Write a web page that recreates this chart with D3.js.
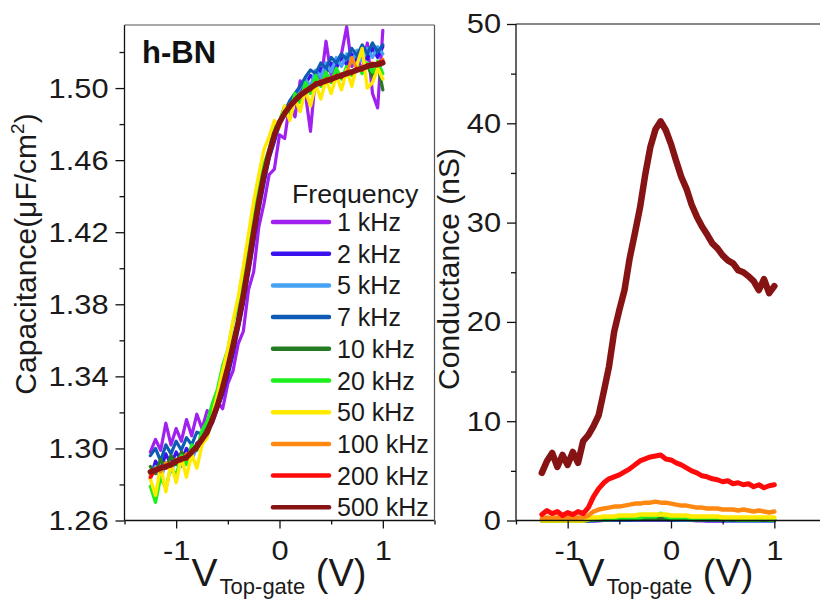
<!DOCTYPE html>
<html><head><meta charset="utf-8">
<script src="https://cdn.jsdelivr.net/npm/d3@7"></script>
<style>
html,body{margin:0;padding:0;background:#fff;}
svg{display:block;font-family:"Liberation Sans",Arial,sans-serif;}
</style>
</head><body>
<svg id="chart" width="820" height="607"></svg>
<script>
// ---------------- data ----------------
const voltage = [-1.25,-1.2,-1.15,-1.1,-1.05,-1,-0.95,-0.9,-0.85,-0.8,
  -0.75,-0.7,-0.65,-0.6,-0.55,-0.5,-0.45,-0.4,-0.35,-0.3,
  -0.25,-0.2,-0.15,-0.1,-0.05,0,0.05,0.1,0.15,0.2,
  0.25,0.3,0.35,0.4,0.45,0.5,0.55,0.6,0.65,0.7,
  0.75,0.8,0.85,0.9,0.95,1];

const frequencies = ["1 kHz","2 kHz","5 kHz","7 kHz","10 kHz","20 kHz","50 kHz","100 kHz","200 kHz","500 kHz"];
const seriesColors = ["#A020F0","#3A10EE","#45A2F5","#0D5BB5","#237B23","#1CF01C","#FFEA00","#FF8811","#FF0A0A","#871414"];

// Capacitance (µF/cm²)
const cap1k = [1.298,1.305,1.299,1.314,1.302,1.311,1.304,1.316,1.307,1.319,
  1.311,1.321,1.317,1.326,1.322,1.336,1.343,1.358,1.365,1.388,
  1.398,1.423,1.436,1.452,1.455,1.474,1.472,1.492,1.484,1.504,
  1.497,1.476,1.508,1.503,1.526,1.507,1.514,1.519,1.534,1.512,
  1.518,1.509,1.525,1.497,1.489,1.532];
const cap2k = [1.283,1.293,1.288,1.297,1.291,1.298,1.293,1.300,1.296,1.303,
  1.305,1.311,1.314,1.322,1.330,1.340,1.352,1.366,1.380,1.397,
  1.414,1.432,1.447,1.461,1.470,1.480,1.485,1.491,1.495,1.499,
  1.502,1.507,1.504,1.511,1.508,1.514,1.511,1.517,1.513,1.519,
  1.515,1.521,1.516,1.522,1.517,1.523];
const cap5k = [1.284,1.290,1.283,1.292,1.287,1.294,1.290,1.297,1.294,1.300,
  1.303,1.309,1.315,1.323,1.333,1.344,1.356,1.370,1.384,1.401,
  1.419,1.436,1.451,1.463,1.472,1.479,1.486,1.491,1.496,1.500,
  1.505,1.501,1.510,1.506,1.514,1.509,1.517,1.512,1.519,1.514,
  1.521,1.515,1.522,1.517,1.523,1.519];
const cap7k = [1.296,1.300,1.293,1.302,1.297,1.304,1.299,1.306,1.302,1.309,
  1.308,1.315,1.318,1.327,1.334,1.345,1.356,1.369,1.383,1.400,
  1.418,1.435,1.450,1.462,1.472,1.480,1.487,1.493,1.497,1.501,
  1.506,1.510,1.508,1.514,1.511,1.517,1.514,1.519,1.516,1.522,
  1.518,1.524,1.519,1.525,1.520,1.524];
const cap10k = [1.290,1.286,1.294,1.289,1.296,1.291,1.298,1.294,1.301,1.299,
  1.307,1.311,1.320,1.326,1.338,1.346,1.360,1.371,1.388,1.403,
  1.423,1.437,1.455,1.464,1.476,1.481,1.488,1.490,1.495,1.496,
  1.500,1.500,1.504,1.503,1.506,1.505,1.508,1.506,1.510,1.508,
  1.512,1.509,1.513,1.506,1.514,1.499];
const cap20k = [1.279,1.270,1.284,1.278,1.290,1.285,1.296,1.291,1.302,1.300,
  1.310,1.315,1.325,1.333,1.346,1.355,1.370,1.381,1.397,1.412,
  1.430,1.444,1.458,1.466,1.478,1.482,1.490,1.487,1.497,1.492,
  1.503,1.497,1.507,1.501,1.509,1.503,1.511,1.505,1.512,1.507,
  1.513,1.508,1.514,1.509,1.515,1.508];
const cap50k = [1.283,1.274,1.290,1.276,1.292,1.281,1.295,1.284,1.297,1.289,
  1.302,1.306,1.318,1.330,1.343,1.355,1.371,1.384,1.401,1.419,
  1.437,1.452,1.466,1.473,1.482,1.478,1.490,1.482,1.494,1.487,
  1.499,1.490,1.502,1.494,1.505,1.497,1.507,1.499,1.510,1.501,
  1.513,1.522,1.500,1.503,1.511,1.505];
const cap100k = [1.285,1.289,1.287,1.292,1.290,1.294,1.293,1.297,1.297,1.302,
  1.305,1.310,1.316,1.325,1.334,1.346,1.357,1.371,1.385,1.403,
  1.420,1.438,1.452,1.465,1.474,1.482,1.486,1.491,1.493,1.497,
  1.498,1.501,1.502,1.504,1.504,1.506,1.506,1.508,1.508,1.517,
  1.510,1.512,1.512,1.514,1.513,1.516];
const cap200k = [1.284,1.288,1.290,1.289,1.292,1.292,1.295,1.294,1.299,1.300,
  1.306,1.308,1.317,1.323,1.335,1.344,1.358,1.369,1.386,1.401,
  1.421,1.436,1.453,1.463,1.475,1.480,1.487,1.489,1.494,1.495,
  1.499,1.499,1.503,1.502,1.505,1.504,1.507,1.506,1.509,1.508,
  1.511,1.510,1.513,1.512,1.514,1.515];
const cap500k = [1.287,1.288,1.289,1.290,1.291,1.293,1.294,1.295,1.298,1.301,
  1.305,1.309,1.316,1.324,1.334,1.345,1.357,1.370,1.385,1.402,
  1.420,1.437,1.452,1.464,1.474,1.481,1.486,1.490,1.493,1.496,
  1.498,1.500,1.502,1.503,1.504,1.505,1.506,1.507,1.508,1.509,
  1.510,1.511,1.512,1.513,1.513,1.514];

// Conductance (nS)
const g1k = [0,0,0,0,0,0,0,0,0,0, 0,0,0.05,0.05,0.05,0.05,0.05,0.05,0.05,0.05,
  0.05,0.05,0.05,0.05,0.05,0.05,0.05,0.05,0.05,0.05, 0,0,0,0,0,0,0,0,0,0, 0,0,0,0,0,0];
const g2k = [0,0,0,0,0,0,0,0,0,0, 0,0.05,0.05,0.05,0.05,0.05,0.05,0.05,0.1,0.1,
  0.1,0.1,0.1,0.1,0.1,0.05,0.05,0.05,0.05,0.05, 0.05,0.05,0,0,0,0,0,0,0,0, 0,0,0,0,0,0];
const g5k = [0,0,0,0,0,0,0,0,0,0, 0.05,0.05,0.05,0.05,0.1,0.1,0.1,0.1,0.1,0.1,
  0.1,0.1,0.1,0.1,0.1,0.1,0.1,0.05,0.05,0.05, 0.05,0.05,0.05,0.05,0.05,0.05,0,0,0,0, 0,0,0,0,0,0];
const g7k = [0,0,0,0,0,0,0,0,0,0, 0.05,0.05,0.1,0.1,0.1,0.1,0.1,0.1,0.15,0.15,
  0.15,0.15,0.15,0.15,0.15,0.1,0.1,0.1,0.1,0.1, 0.05,0.05,0.05,0.05,0.05,0.05,0.05,0.05,0.05,0.05, 0.05,0.05,0.05,0.05,0.05,0.05];
const g10k = [0,0,0,0,0,0,0,0,0,0.05, 0.1,0.1,0.1,0.1,0.15,0.15,0.15,0.15,0.2,0.2,
  0.2,0.2,0.2,0.2,0.2,0.15,0.15,0.15,0.15,0.1, 0.1,0.1,0.1,0.1,0.1,0.1,0.1,0.1,0.05,0.05, 0.05,0.05,0.05,0.05,0.05,0.05];
const g20k = [0,0,0,0,0,0,0,0,0,0.1, 0.1,0.2,0.2,0.2,0.2,0.3,0.3,0.3,0.3,0.3,
  0.4,0.4,0.4,0.7,0.4,0.3,0.3,0.3,0.3,0.2, 0.2,0.2,0.2,0.2,0.2,0.2,0.1,0.2,0.1,0.1, 0.1,0.1,0.1,0.2,0.1,0.1];
const g50k = [0,0,0,0,0,0,0,0,0,0.1, 0.3,0.3,0.4,0.4,0.4,0.5,0.5,0.5,0.5,0.6,
  0.6,0.6,0.6,0.6,0.6,0.5,0.5,0.5,0.5,0.4, 0.4,0.4,0.4,0.4,0.4,0.3,0.3,0.3,0.3,0.3, 0.3,0.3,0.3,0.3,0.3,0.3];
const g100k = [0.2,0.3,0.2,0.3,0.2,0.3,0.2,0.3,0.3,0.5, 0.9,1.1,1.2,1.3,1.4,1.4,1.5,1.6,1.7,1.7,
  1.8,1.8,1.9,1.8,1.8,1.7,1.6,1.5,1.5,1.4, 1.3,1.3,1.2,1.2,1.2,1.1,1.1,1.1,1.0,1.1, 1.0,0.9,1.0,0.9,0.8,0.9];
const g200k = [0.6,1.0,0.7,0.9,0.5,0.8,0.6,0.9,0.7,1.3, 2.4,3.2,3.8,4.2,4.4,4.6,4.9,5.2,5.6,6.0,
  6.2,6.4,6.5,6.6,6.2,6.1,5.8,5.6,5.3,5.0, 4.8,4.5,4.4,4.2,4.1,3.9,4.0,3.7,3.8,3.6, 3.7,3.4,3.6,3.3,3.5,3.6];
const g500k = [4.8,6.0,6.8,5.4,6.6,5.6,6.9,5.8,8.0,8.6, 9.5,10.6,13.0,15.5,19.0,21.2,23.2,26.4,28.9,31.5,
  34.8,37.6,39.4,40.2,39.3,37.9,36.2,34.6,33.4,31.8, 30.6,29.6,28.8,27.9,27.4,26.7,26.2,25.9,25.2,25.0,
  24.6,24.1,23.2,24.3,22.9,23.6];

const capacitance = [cap1k,cap2k,cap5k,cap7k,cap10k,cap20k,cap50k,cap100k,cap200k,cap500k];
const conductance = [g1k,g2k,g5k,g7k,g10k,g20k,g50k,g100k,g200k,g500k];

const capMajor = [1.26,1.30,1.34,1.38,1.42,1.46,1.50];
const capMinor = [1.28,1.32,1.36,1.40,1.44,1.48,1.52];
const gMajor = [0,10,20,30,40,50];
const gMinor = [5,15,25,35,45];
const vMajor = [-1,0,1];
const vMinor = [-1.5,-0.5,0.5,1.5];

// ---------------- drawing ----------------
const svg = d3.select("#chart");
const TICK_FONT = 28, TICK_SX = 1.1;

function stretch(sel, sx){
  sel.each(function(){
    const t = d3.select(this);
    const x = +(t.attr("x")||0);
    t.attr("x", x/sx).attr("transform", `scale(${sx},1)`);
  });
}
function styleAxis(g){
  g.select(".domain").remove();
  g.selectAll("line").attr("stroke","#111").attr("stroke-width",1.3);
  g.selectAll("text").attr("fill","#1a1a1a").style("font-size",TICK_FONT+"px")
    .style("font-family",'"Liberation Sans",Arial,sans-serif');
}

function panel(opts){
  const {x0,x1,y0,y1,ydom,yMajor,yMinor,yFmt,data,widths} = opts;
  const x = d3.scaleLinear().domain([-1.5,1.5]).range([x0,x1]);
  const y = d3.scaleLinear().domain(ydom).range([y1,y0]);

  const clipId = "clip"+Math.round(x0);
  svg.append("clipPath").attr("id",clipId).append("rect")
    .attr("x",x0).attr("y",y0-6).attr("width",x1-x0).attr("height",y1-y0+12);

  const line = d3.line().x((d,i)=>x(voltage[i])).y(d=>y(d)).curve(d3.curveLinear);
  const lg = svg.append("g").attr("clip-path",`url(#${clipId})`);
  data.forEach((arr,i)=>{
    lg.append("path").datum(arr).attr("d",line)
      .attr("fill","none").attr("stroke",seriesColors[i])
      .attr("stroke-width", widths[i])
      .attr("stroke-linejoin","round").attr("stroke-linecap","round");
  });

  const yax = svg.append("g").attr("transform",`translate(${x0},0)`)
    .call(d3.axisLeft(y).tickValues(yMajor).tickFormat(yFmt).tickSize(9).tickPadding(opts.ypad).tickSizeOuter(0));
  styleAxis(yax); stretch(yax.selectAll("text"), TICK_SX);
  const yminor = svg.append("g").attr("transform",`translate(${x0},0)`)
    .call(d3.axisLeft(y).tickValues(yMinor).tickFormat("").tickSize(5).tickSizeOuter(0));
  styleAxis(yminor);

  const xax = svg.append("g").attr("transform",`translate(0,${y1})`)
    .call(d3.axisBottom(x).tickValues(vMajor).tickFormat(d=>String(d)).tickSize(8).tickPadding(12).tickSizeOuter(0));
  styleAxis(xax); stretch(xax.selectAll("text"), TICK_SX);
  const xminor = svg.append("g").attr("transform",`translate(0,${y1})`)
    .call(d3.axisBottom(x).tickValues(vMinor).tickFormat("").tickSize(4).tickSizeOuter(0));
  styleAxis(xminor);

  svg.append("line").attr("x1",x0).attr("x2",x0).attr("y1",y0).attr("y2",y1)
    .attr("stroke","#111").attr("stroke-width",1.3);
  svg.append("line").attr("x1",x0).attr("x2",x1).attr("y1",y1).attr("y2",y1)
    .attr("stroke","#111").attr("stroke-width",1.3);
  svg.append("line").attr("x1",x0).attr("x2",x1).attr("y1",y0).attr("y2",y0)
    .attr("stroke",opts.frameColor).attr("stroke-width",1.2);
  if (opts.rightFrame){
    svg.append("line").attr("x1",x1).attr("x2",x1).attr("y1",y0).attr("y2",y1)
      .attr("stroke",opts.frameColor).attr("stroke-width",1.2);
  }
  return {x,y};
}

// Left panel: capacitance
panel({x0:124.5,x1:434.5,y0:25,y1:520.5,ydom:[1.26,1.535],yMajor:capMajor,yMinor:capMinor,
  yFmt:d3.format(".2f"),data:capacitance,widths:[3.2,3.2,3.2,3.2,3.2,3.2,3.4,3.2,3.4,5.5],
  ypad:7,frameColor:"#555",rightFrame:true});

// Right panel: conductance
panel({x0:516,x1:826,y0:24,y1:520.5,ydom:[0,50],yMajor:gMajor,yMinor:gMinor,
  yFmt:d3.format("d"),data:conductance,widths:[4,4,4,4,4,4,4.5,4.5,5,6.5],
  ypad:6,frameColor:"#111",rightFrame:false});

// h-BN label
svg.append("text").attr("x",142).attr("y",63).text("h-BN")
  .style("font-size","31px").style("font-weight","bold").attr("fill","#111");

// Legend
svg.append("text").attr("x",292/1.07).attr("y",203).attr("transform","scale(1.07,1)")
  .text("Frequency").style("font-size","25px").attr("fill","#1a1a1a");
const leg = svg.append("g");
frequencies.forEach((f,i)=>{
  const yy = 222 + i*31.7;
  leg.append("line").attr("x1",273).attr("x2",329).attr("y1",yy).attr("y2",yy)
    .attr("stroke",seriesColors[i]).attr("stroke-width",4.5).attr("stroke-linecap","round");
  leg.append("text").attr("x",337).attr("y",yy+9).text(f)
    .style("font-size","25px").attr("fill","#1a1a1a");
});

// Axis titles
function yTitle(cx, cy, build){
  const t = svg.append("text").attr("transform",`translate(${cx},${cy}) rotate(-90)`)
    .attr("text-anchor","middle").style("font-size","30px").attr("fill","#1a1a1a");
  build(t);
}
yTitle(36, 254, t=>{
  t.append("tspan").text("Capacitance(μF/cm");
  t.append("tspan").text("2").style("font-size","19px").attr("dy",-12);
  t.append("tspan").text(")").attr("dy",12);
});
yTitle(459, 269, t=>{ t.text("Conductance (nS)"); });

function xTitle(cx){
  const t = svg.append("text").attr("x",cx).attr("y",586).attr("text-anchor","middle")
    .attr("fill","#1a1a1a");
  t.append("tspan").text("V").style("font-size","39px");
  t.append("tspan").text("Top-gate").style("font-size","22px").attr("dy",8).attr("dx",2);
  t.append("tspan").text(" (V)").style("font-size","38px").attr("dy",-8);
}
xTitle(279);
xTitle(666);
</script>
</body></html>
